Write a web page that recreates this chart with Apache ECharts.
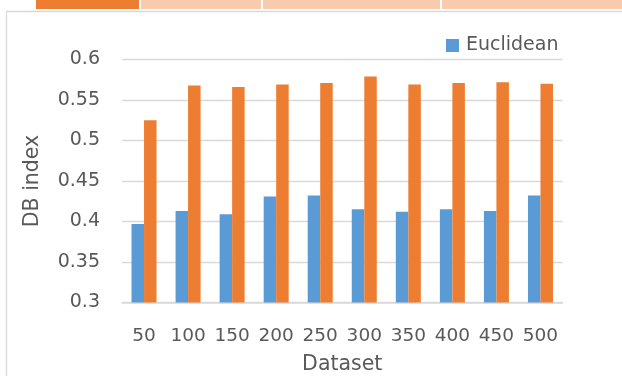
<!DOCTYPE html>
<html>
<head>
<meta charset="utf-8">
<script src="https://cdn.jsdelivr.net/npm/echarts@6/dist/echarts.min.js"></script>
<style>
  html, body { margin: 0; padding: 0; background: #fff; }
  #chart { width: 622px; height: 376px; }
</style>
</head>
<body>
<div id="chart"></div>
<script>
const categories = ['50', '100', '150', '200', '250', '300', '350', '400', '450', '500'];
const euclidean = [0.397, 0.413, 0.409, 0.431, 0.432, 0.415, 0.412, 0.415, 0.413, 0.432];
const otherSeries = [0.525, 0.568, 0.566, 0.569, 0.571, 0.579, 0.569, 0.571, 0.572, 0.570];
const yTicks = { min: 0.3, max: 0.6, interval: 0.05 };

const FONT = 'DejaVu Sans';
const TXT = '#595959';
const GRID = '#D9D9D9';

const chart = echarts.init(document.getElementById('chart'), null, { renderer: 'canvas' });
chart.setOption({
  animation: false,
  backgroundColor: '#ffffff',
  textStyle: { fontFamily: FONT, color: TXT },
  graphic: [
    { type: 'rect', shape: { x: 36, y: 0, width: 103, height: 9 }, style: { fill: '#ED7D31' }, silent: true },
    { type: 'rect', shape: { x: 141, y: 0, width: 120, height: 9 }, style: { fill: '#F8CBAD' }, silent: true },
    { type: 'rect', shape: { x: 263, y: 0, width: 177, height: 9 }, style: { fill: '#F8CBAD' }, silent: true },
    { type: 'rect', shape: { x: 442, y: 0, width: 190, height: 9 }, style: { fill: '#F8CBAD' }, silent: true },
    { type: 'rect', shape: { x: 6.5, y: 11.5, width: 700, height: 500 }, style: { fill: 'none', stroke: GRID, lineWidth: 1.3 }, silent: true, z: -1 }
  ],
  legend: {
    data: ['Euclidean'],
    left: 441,
    top: 31,
    itemWidth: 13,
    itemHeight: 13,
    itemGap: 5,
    icon: 'rect',
    textStyle: { fontFamily: FONT, fontSize: 19, color: TXT, padding: [0, 0, 0, 2] }
  },
  grid: { left: 122, right: 59.5, top: 59.5, bottom: 73.5, containLabel: false, outerBoundsMode: 'none' },
  xAxis: {
    type: 'category',
    data: categories,
    name: 'Dataset',
    nameLocation: 'middle',
    nameGap: 52,
    nameTextStyle: { fontFamily: FONT, fontSize: 20.5, color: TXT },
    axisLine: { show: true, lineStyle: { color: GRID, width: 1.5 } },
    axisTick: { show: false },
    axisLabel: { fontFamily: FONT, fontSize: 18.5, color: TXT, margin: 24, interval: 0 }
  },
  yAxis: {
    type: 'value',
    min: yTicks.min,
    max: yTicks.max,
    interval: yTicks.interval,
    name: 'DB index',
    nameLocation: 'middle',
    nameGap: 79,
    nameTextStyle: { fontFamily: FONT, fontSize: 20.5, color: TXT },
    axisLine: { show: false },
    axisTick: { show: false },
    splitLine: { lineStyle: { color: GRID, width: 1.3 } },
    axisLabel: {
      fontFamily: FONT, fontSize: 19, color: TXT, margin: 22,
      formatter: v => String(+v.toFixed(2))
    }
  },
  series: [
    {
      name: 'Euclidean',
      type: 'bar',
      data: euclidean,
      barWidth: 12.5,
      barGap: '0%',
      itemStyle: { color: '#5B9BD5' }
    },
    {
      name: 'Other',
      type: 'bar',
      data: otherSeries,
      barWidth: 12.5,
      itemStyle: { color: '#ED7D31' }
    }
  ]
});
</script>
</body>
</html>
